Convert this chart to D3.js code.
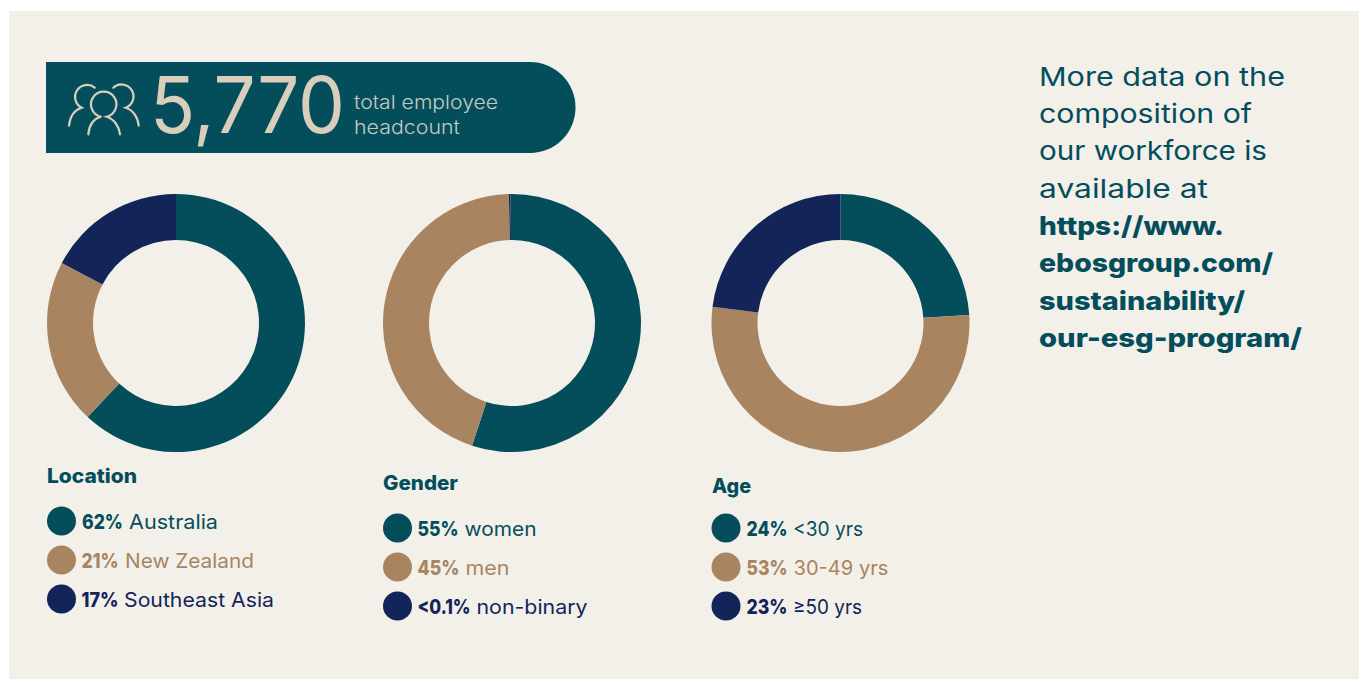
<!DOCTYPE html>
<html><head><meta charset="utf-8">
<script src="https://cdn.jsdelivr.net/npm/d3@7/dist/d3.min.js"></script>
<style>html,body{margin:0;padding:0;background:#fff;overflow:hidden}svg{display:block}text{font-family:Inter,sans-serif}</style>
</head><body><svg id="c" width="1359" height="679"></svg>
<script>
// ---- data ----
const seriesKeys = ["first","second","third"];
const seriesColors = ["#044e5c","#a98460","#132558"];
const locationLabels = ["Australia","New Zealand","Southeast Asia"];
const locationValues = [62,20.7,17.3];
const locationText = ["62%","21%","17%"];
const genderLabels = ["women","men","non-binary"];
const genderValues = [55.2,44.6,0.2];
const genderText = ["55%","45%","<0.1%"];
const ageLabels = ["<30 yrs","30-49 yrs","≥50 yrs"];
const ageValues = [24,53,23];
const ageText = ["24%","53%","23%"];
const noteLines = ["More data on the","composition of","our workforce is","available at"];
const linkLines = ["https://www.","ebosgroup.com/","sustainability/","our-esg-program/"];
const headcount = "5,770";
const headcountLines = ["total employee","headcount"];

// ---- layout ----
const svg = d3.select("#c");
const teal = seriesColors[0], cream = "#d9cdbb", creamSoft = "#c3cac0";
const color = d3.scaleOrdinal(seriesKeys, seriesColors);
function label(g,x,y,str,w,size,weight,fill){
  const t = g.append("text").attr("x",x).attr("y",y).text(str)
    .attr("font-size",size).attr("font-weight",weight).attr("fill",fill);
  if(w) t.attr("textLength",w).attr("lengthAdjust","spacingAndGlyphs");
  return t;
}
svg.append("rect").attr("x",9).attr("y",11).attr("width",1350).attr("height",668).attr("fill","#f3f0ea");

// headcount pill
svg.append("path").attr("fill",teal).attr("d","M46 62L530 62A45.5 45.5 0 0 1 530 153L46 153Z");
const icon = svg.append("g").attr("fill","none").attr("stroke",cream).attr("stroke-width",2.2).attr("stroke-linecap","round");
icon.append("path").attr("d","M100.7 116.7A12.7 12.7 0 1 1 106.7 116.7C114 119 119 126 120 134.3M100.7 116.7C93 119 89 126 88.3 134.3");
icon.append("path").attr("d","M94.7 87.7A12 12 0 1 0 81.7 107.7C74 110 70 117 69 125.7");
icon.append("path").attr("d","M113.3 87.7A12 12 0 1 1 125.7 107.7C133 110 138 117 138.7 125.7");
label(svg,150,133,headcount,195,78,400,cream);
label(svg,354,109,headcountLines[0],144,19,300,creamSoft);
label(svg,354,134,headcountLines[1],106,19,300,creamSoft);

// donuts + legends
const panels = [
 {labels:locationLabels,values:locationValues,text:locationText,title:"Location",cx:176,start:0,tx:47,tw:90,ty:483,lx:61.5,ly:[521,560,599],ny:[529,568,607],
  px:[[82,41,129,89],[81.5,37,125,129],[81.5,37,124,150]]},
 {labels:genderLabels,values:genderValues,text:genderText,title:"Gender",cx:512,start:-0.012,tx:383,tw:75,ty:490,lx:397.5,ly:[528,567,606],ny:[536,575,614],
  px:[[417.5,41,464.5,72],[417.5,42,465.5,44],[417.5,53,476.5,111]]},
 {labels:ageLabels,values:ageValues,text:ageText,title:"Age",cx:840.5,start:0,tx:712,tw:39,ty:493,lx:726,ly:[528,567,606],ny:[536,575,614],
  px:[[746.5,41,793,70],[746.5,41,793.5,95],[746.5,41,793,69]]}
];
const arc = d3.arc().innerRadius(83).outerRadius(129);
panels.forEach(p=>{
  const pie = d3.pie().sort(null).value(d=>d).startAngle(p.start).endAngle(p.start+2*Math.PI);
  const g = svg.append("g").attr("transform",`translate(${p.cx},323)`);
  g.selectAll("path").data(pie(p.values)).join("path")
    .attr("d",arc).attr("fill",(d,i)=>color(seriesKeys[i]));
  label(svg,p.tx,p.ty,p.title,p.tw,20,800,teal);
  p.labels.forEach((l,i)=>{
    const c = color(seriesKeys[i]);
    svg.append("circle").attr("cx",p.lx).attr("cy",p.ly[i]).attr("r",14.5).attr("fill",c);
    label(svg,p.px[i][0],p.ny[i],p.text[i],p.px[i][1],20,800,c);
    label(svg,p.px[i][2],p.ny[i],l,p.px[i][3],20,400,c);
  });
});

// side note
const noteW = [246,213,228,169], linkW=[185,234,206,263];
const noteY = [86,123,160,198], linkY=[235,272,310,347];
noteLines.forEach((s,i)=>label(svg,1039,noteY[i],s,noteW[i],26,400,teal));
linkLines.forEach((s,i)=>label(svg,1039,linkY[i],s,linkW[i],26,800,teal));
</script></body></html>
